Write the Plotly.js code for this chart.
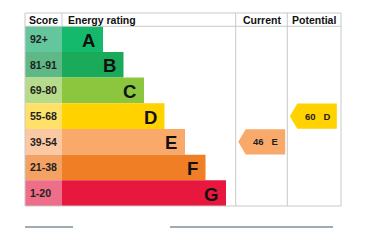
<!DOCTYPE html>
<html>
<head>
<meta charset="utf-8">
<script src="https://cdn.plot.ly/plotly-3.0.1.min.js"></script>
<style>html,body{margin:0;padding:0;background:#fff;}#chart{width:369px;height:240px;}</style>
</head>
<body>
<div id="chart"></div>
<script>
// ---- data ----
const bands = ['A', 'B', 'C', 'D', 'E', 'F', 'G'];
const scoreRanges = ['92+', '81-91', '69-80', '55-68', '39-54', '21-38', '1-20'];
const bandColors = ['#14b96c', '#1ba95a', '#8cc63f', '#ffd200', '#f9aa6b', '#ef7e24', '#e8173e'];
const scoreColors = ['#63c69c', '#5fb987', '#b6db8b', '#ffe169', '#fac8a3', '#f4a164', '#ee6d88'];
const currentScore = 46;
const currentBand = 'E';
const potentialScore = 60;
const potentialBand = 'D';
const headers = ['Score', 'Energy rating', 'Current', 'Potential'];

// ---- layout geometry (px inside plot area) ----
const W = 316;                 // plot width
const colEdges = [0, 37, 210.7, 262.3, 316];
const barStart = 37, barMin = 41, barStep = 20.5;
const headerRows = 0.517;
const yTop = -0.5 - headerRows, yBot = 6.5;
const yPaper = r => (yBot - r) / (yBot - yTop);
const xPaper = x => x / W;
const font = 'Arial, "Liberation Sans", sans-serif';

const idx = bands.map((b, i) => i);
const lengths = bands.map((b, i) => barMin + barStep * i);

const traces = [];
traces.push({
  type: 'bar', orientation: 'h', y: idx, x: bands.map(() => barStart), base: 0, width: 1,
  marker: {color: scoreColors, line: {width: 0}}, hoverinfo: 'skip', showlegend: false
});
traces.push({
  type: 'bar', orientation: 'h', y: idx, x: lengths, base: barStart, width: 1,
  marker: {color: bandColors, line: {width: 0}}, hoverinfo: 'skip', showlegend: false
});

const annotations = [];
bands.forEach((b, i) => {
  annotations.push({x: 0, y: i, xref: 'x', yref: 'y', xanchor: 'left', xshift: 3, yshift: 0,
    text: '<b>' + scoreRanges[i] + '</b>', showarrow: false,
    font: {family: font, size: 10.5, color: '#1e1e1e'}});
  annotations.push({x: barStart + lengths[i], y: i, xref: 'x', yref: 'y', xanchor: 'right', xshift: -6, yshift: -1,
    text: '<b>' + b + '</b>', showarrow: false,
    font: {family: font, size: 18.5, color: '#111'}});
});

// header texts
const hy = -0.5 - headerRows / 2;
annotations.push({x: (colEdges[0] + colEdges[1]) / 2, y: hy, xref: 'x', yref: 'y', text: '<b>' + headers[0] + '</b>', showarrow: false, font: {family: font, size: 10.5, color: '#111'}});
annotations.push({x: colEdges[1], y: hy, xref: 'x', yref: 'y', xanchor: 'left', xshift: 4, text: '<b>' + headers[1] + '</b>', showarrow: false, font: {family: font, size: 10.5, color: '#111'}});
annotations.push({x: (colEdges[2] + colEdges[3]) / 2, y: hy, xref: 'x', yref: 'y', text: '<b>' + headers[2] + '</b>', showarrow: false, font: {family: font, size: 10.5, color: '#111'}});
annotations.push({x: (colEdges[3] + colEdges[4]) / 2, y: hy, xref: 'x', yref: 'y', text: '<b>' + headers[3] + '</b>', showarrow: false, font: {family: font, size: 10.5, color: '#111'}});

// arrows
function arrow(colLeft, score, band) {
  const r = bands.indexOf(band);
  const left = colLeft + 2.5, tip = 7.5, right = left + 47;
  const t = r - 0.49, bt = r + 0.49;
  traces.push({
    type: 'scatter', mode: 'lines', fill: 'toself', fillcolor: bandColors[r],
    x: [left, left + tip, right, right, left + tip, left],
    y: [r, t, t, bt, bt, r],
    line: {width: 0, color: bandColors[r]}, hoverinfo: 'skip', showlegend: false
  });
  annotations.push({x: left + tip + (47 - tip) / 2, y: r, xref: 'x', yref: 'y',
    text: '<b>' + score + '&nbsp;&nbsp;&nbsp;' + band + '</b>', showarrow: false,
    font: {family: font, size: 9.5, color: '#1e1e1e'}});
}
arrow(colEdges[2], currentScore, currentBand);
arrow(colEdges[3], potentialScore, potentialBand);

// table lines
const gray = '#c9c9c9';
const shapes = [];
const ln = (x0, y0, x1, y1, c, w) => shapes.push({type: 'line', xref: 'paper', yref: 'paper', x0, y0, x1, y1, line: {color: c || gray, width: w || 1}, layer: 'above'});
ln(xPaper(0), yPaper(yTop), xPaper(W), yPaper(yTop));
ln(xPaper(0), yPaper(yBot), xPaper(W), yPaper(yBot));
ln(xPaper(0), yPaper(yTop), xPaper(0), yPaper(yBot));
ln(xPaper(W), yPaper(yTop), xPaper(W), yPaper(yBot));
ln(xPaper(0), yPaper(-0.5), xPaper(W), yPaper(-0.5));
ln(xPaper(colEdges[1]), yPaper(yTop), xPaper(colEdges[1]), yPaper(-0.5));
ln(xPaper(colEdges[2]), yPaper(yTop), xPaper(colEdges[2]), yPaper(yBot));
ln(xPaper(colEdges[3]), yPaper(yTop), xPaper(colEdges[3]), yPaper(yBot));
// link underlines below the table
const uy = -21 / 193;
ln(xPaper(0), uy, xPaper(48), uy, '#3c5a65', 1);
ln(xPaper(145), uy, xPaper(308), uy, '#3c5a65', 1);

const layout = {
  width: 369, height: 240,
  margin: {l: 25, r: 28, t: 13, b: 34, pad: 0},
  paper_bgcolor: '#fff', plot_bgcolor: '#fff',
  barmode: 'overlay',
  xaxis: {range: [0, W], showgrid: false, zeroline: false, showticklabels: false, ticks: '', fixedrange: true},
  yaxis: {range: [yBot, yTop], showgrid: false, zeroline: false, showticklabels: false, ticks: '', fixedrange: true},
  showlegend: false,
  annotations, shapes
};
Plotly.newPlot('chart', traces, layout, {displayModeBar: false, staticPlot: true});
</script>
</body>
</html>
